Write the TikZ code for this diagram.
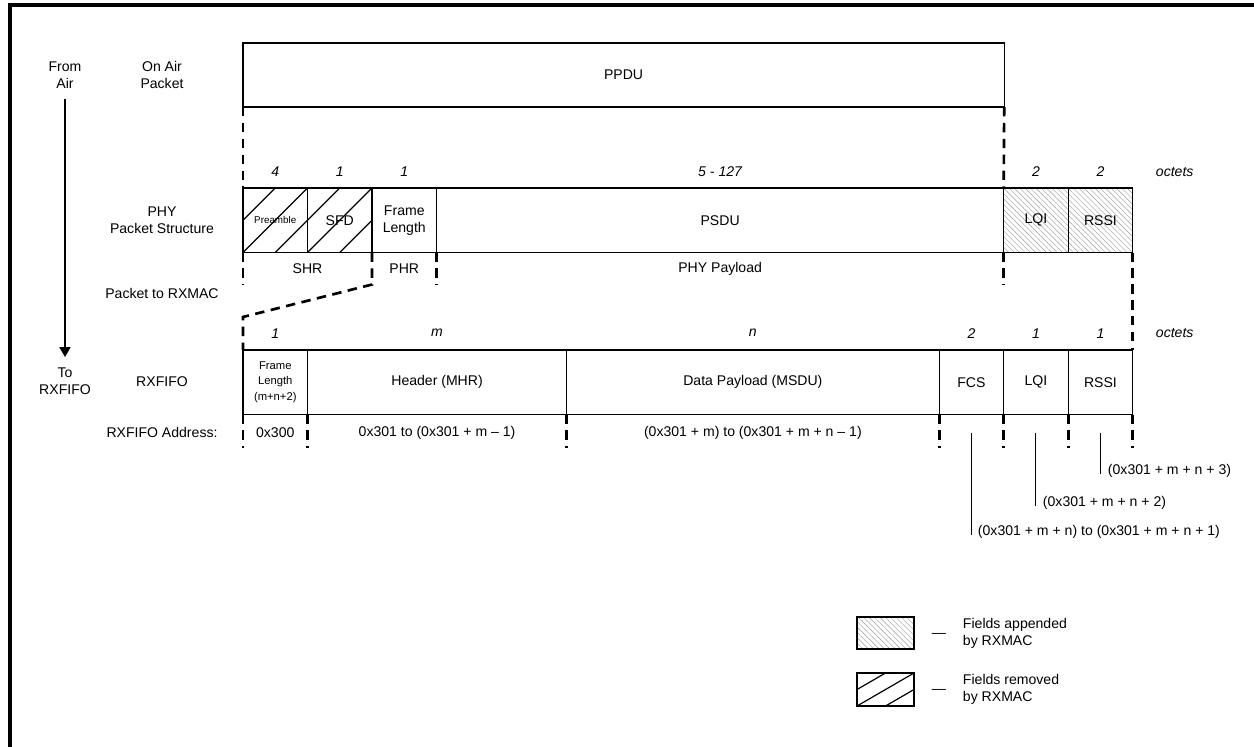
\documentclass[tikz,border=0pt]{standalone}
\usepackage{fontspec}
\setmainfont{Liberation Sans}
\usetikzlibrary{positioning,arrows.meta,patterns.meta}

\tikzset{
  txt/.style={align=center, font=\fontsize{10}{12}\selectfont},
  field/.style={txt, draw=black, line width=0.9pt, inner sep=0pt, outer sep=0pt,
    minimum width=1.6125cm, minimum height=1.6125cm},
  octet/.style={font=\fontsize{10}{12}\selectfont\itshape},
  appended/.style={pattern={Lines[angle=-45,distance=2.7pt,line width=0.3pt]}, pattern color=black!40},
  hatch/.style={line width=0.85pt},
  cut/.style={line width=1.9pt, dash pattern=on 6.7pt off 4.6pt},
  pin/.style={line width=0.7pt},
}

\begin{document}
\begin{tikzpicture}[x=0.025cm, y=-0.025cm]
\useasboundingbox (0,0) rectangle (1254,747);
\draw[line width=2.2pt] (1260,5) -- (10,5) -- (10,760);

% captions on the left
\node[txt] (fromair) at (65,75) {From\\Air};
\node[txt] (torx) at (65,381) {To\\RXFIFO};
\node[txt] (onair) at (162,75) {On Air\\Packet};
\node[txt] (phylbl) at (162,220) {PHY\\Packet Structure};
\node[txt] (tomac) at (162,293) {Packet to RXMAC};
\node[txt] (rxlbl) at (162,382) {RXFIFO};
\node[txt] (addrlbl) at (162,432) {RXFIFO Address:};
\draw[line width=0.9pt, -{Triangle[width=7.8pt,length=7pt]}, shorten <=4.3pt, shorten >=4pt] (fromair.south) -- (torx.north);

% on air packet
\node[field, minimum width=19.025cm, minimum height=1.6cm, anchor=north west] (ppdu) at (243,43) {PPDU};

% PHY packet structure
\node[field, anchor=north west, font=\fontsize{7}{8}\selectfont] (pre) at (243,188) {Preamble};
\node[field, right=0pt of pre] (sfd) {SFD};
\node[field, right=0pt of sfd] (flen) {Frame\\Length};
\node[field, minimum width=14.175cm, right=0pt of flen] (psdu) {PSDU};
\node[field, appended, right=0pt of psdu] (lqi) {LQI};
\node[field, appended, right=0pt of lqi] (rssi) {RSSI};
\foreach \f in {pre,sfd}
  \draw[hatch] (\f.west) -- (\f.north) (\f.south west) -- (\f.north east) (\f.south) -- (\f.east);

\node[octet] (o-pre) at ([yshift=0.4cm]pre.north) {4};
\node[octet] (o-sfd) at ([yshift=0.4cm]sfd.north) {1};
\node[octet] (o-flen) at ([yshift=0.4cm]flen.north) {1};
\node[octet] (o-psdu) at ([yshift=0.4cm]psdu.north) {5 - 127};
\node[octet] (o-lqi) at ([yshift=0.4cm]lqi.north) {2};
\node[octet] (o-rssi) at ([yshift=0.4cm]rssi.north) {2};
\node[octet, anchor=west] (o-unit1) at (1151,172) {octets};

\node[txt] (shr) at ([yshift=-0.41cm]pre.south east) {SHR};
\node[txt] (phr) at ([yshift=-0.41cm]flen.south) {PHR};
\node[txt] (payload) at ([yshift=-0.41cm]psdu.south) {PHY Payload};

% RXFIFO
\node[field, anchor=north west, font=\fontsize{8}{11.2}\selectfont] (rfl) at (243,350) {Frame\\Length\\(m+n+2)};
\node[field, minimum width=6.475cm, right=0pt of rfl] (mhr) {Header (MHR)};
\node[field, minimum width=9.3125cm, right=0pt of mhr] (msdu) {Data Payload (MSDU)};
\node[field, right=0pt of msdu] (fcs) {FCS};
\node[field, right=0pt of fcs] (rlqi) {LQI};
\node[field, right=0pt of rlqi] (rrssi) {RSSI};

\node[octet] (o-rfl) at ([yshift=0.42cm]rfl.north) {1};
\node[octet] (o-mhr) at ([yshift=0.42cm]mhr.north) {m};
\node[octet] (o-msdu) at ([yshift=0.42cm]msdu.north) {n};
\node[octet] (o-fcs) at ([yshift=0.42cm]fcs.north) {2};
\node[octet] (o-rlqi) at ([yshift=0.42cm]rlqi.north) {1};
\node[octet] (o-rrssi) at ([yshift=0.42cm]rrssi.north) {1};
\node[octet, anchor=west] (o-unit2) at (1151,333) {octets};

\node[txt] (a-rfl) at ([yshift=-0.45cm]rfl.south) {0x300};
\node[txt] (a-mhr) at ([yshift=-0.45cm]mhr.south) {0x301 to (0x301 + m – 1)};
\node[txt] (a-msdu) at ([yshift=-0.45cm]msdu.south) {(0x301 + m) to (0x301 + m + n – 1)};

% cut lines
\draw[cut] (ppdu.south west) -- (pre.north west);
\draw[cut] (ppdu.south east) -- (lqi.north west);
\foreach \c in {pre.south west, psdu.south west, psdu.south east}
  \draw[cut] (\c) -- ++(0,32);
\draw[cut] (flen.south west) -- ++(0,32) -- ([yshift=0.825cm]rfl.north west) -- (rfl.north west);
\draw[cut] (rssi.south east) -- (rrssi.north east);
\foreach \c in {rfl.south west, mhr.south west, msdu.south west, fcs.south west, rlqi.south west, rrssi.south west, rrssi.south east}
  \draw[cut] (\c) -- ++(0,33);

% addresses of the appended fields
\node[txt, anchor=west] (a-rrssi) at (1103,471) {(0x301 + m + n + 3)};
\node[txt, anchor=west] (a-rlqi) at (1038,503) {(0x301 + m + n + 2)};
\node[txt, anchor=west] (a-fcs) at (973,532) {(0x301 + m + n) to (0x301 + m + n + 1)};
\foreach \f in {fcs,rlqi,rrssi}
  \draw[pin] ([yshift=-0.45cm]\f.south) -- (\f.south |- a-\f.west) -- ++(0,3);

% legend
\node[draw, line width=0.9pt, appended, inner sep=0pt, outer sep=0pt, minimum width=1.425cm, minimum height=0.8cm, anchor=north west] (key-app) at (857,617) {};
\node[txt, anchor=base] (dash-app) at (939,637) {—};
\node[txt, align=left, anchor=west] (txt-app) at (958,633) {Fields appended\\by RXMAC};
\node[draw, line width=0.9pt, inner sep=0pt, outer sep=0pt, minimum width=1.425cm, minimum height=0.825cm, anchor=north west] (key-rem) at (857,673) {};
\draw[hatch] (key-rem.west) -- (key-rem.north) (key-rem.south west) -- (key-rem.north east) (key-rem.south) -- (key-rem.east);
\node[txt, anchor=base] (dash-rem) at (939,693) {—};
\node[txt, align=left, anchor=west] (txt-rem) at (958,689) {Fields removed\\by RXMAC};
\end{tikzpicture}
\end{document}
